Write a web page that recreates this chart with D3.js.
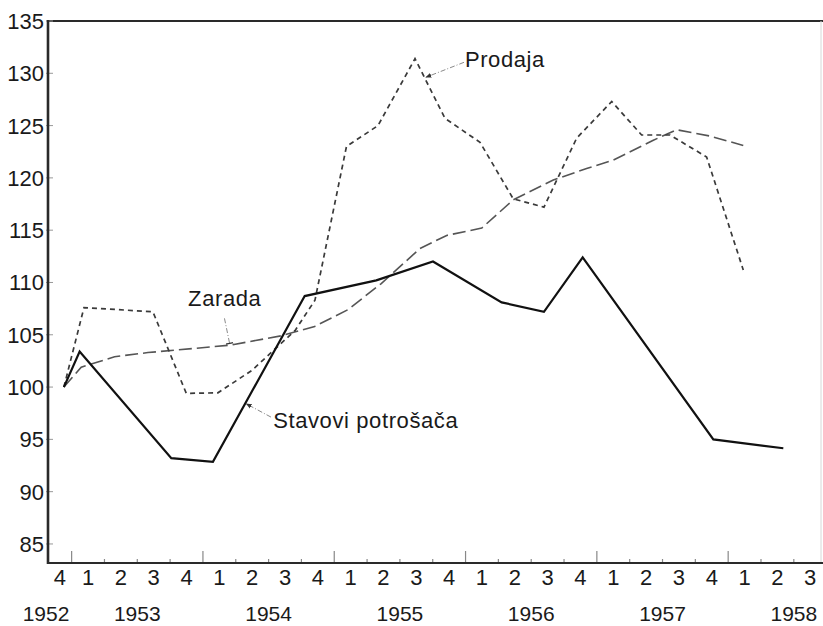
<!DOCTYPE html>
<html lang="hr">
<head>
    <meta charset="utf-8">
    <title>Prodaja, zarada i stavovi potrošača</title>
    <script src="https://d3js.org/d3.v7.min.js"></script>
    <style type="text/css">
        body {
            margin: 0;
            background: #fff;
        }
        svg {
            display: block;
            font-family: 'Liberation Sans', Helvetica, Arial, sans-serif;
        }
        .lbl {
            font-size: 22px;
            fill: #1a1a1a;
        }
        .yr {
            font-size: 21px;
        }
        .note {
            font-size: 22px;
            fill: #1a1a1a;
            letter-spacing: 0.6px;
        }
    </style>
</head>
<body>
<svg></svg>
<script>
    // Werte (x = Dezimaljahr, y = Index)
    var stavoviYears = [1952.941, 1953.061, 1953.759, 1954.076, 1954.775, 1955.32, 1955.752, 1956.275, 1956.597, 1956.892, 1957.887, 1958.420];
    var stavoviValues = [100, 103.4, 93.2, 92.85, 108.7, 110.2, 112.0, 108.1, 107.2, 112.4, 95.0, 94.15];

    var zaradaYears = [1952.941, 1953.073, 1953.327, 1953.581, 1954.203, 1954.596, 1954.851, 1955.104, 1955.358, 1955.653, 1955.856, 1956.123, 1956.363, 1956.668, 1956.922, 1957.125, 1957.430, 1957.608, 1957.861, 1958.115];
    var zaradaValues = [100, 101.9, 102.9, 103.3, 104.0, 104.9, 105.8, 107.4, 109.9, 113.25, 114.5, 115.2, 117.9, 119.8, 120.9, 121.7, 123.6, 124.6, 124.0, 123.1];

    var prodajaYears = [1952.941, 1953.094, 1953.619, 1953.873, 1954.114, 1954.373, 1954.701, 1954.853, 1955.093, 1955.333, 1955.615, 1955.843, 1956.110, 1956.363, 1956.597, 1956.846, 1957.113, 1957.341, 1957.557, 1957.836, 1958.115];
    var prodajaValues = [100, 107.6, 107.2, 99.4, 99.45, 101.6, 105.4, 108.3, 123.0, 125.0, 131.4, 125.7, 123.4, 118.0, 117.2, 123.8, 127.3, 124.1, 124.1, 122.0, 111.2];

    // Achsenbeschriftungen
    var yTicks = [85, 90, 95, 100, 105, 110, 115, 120, 125, 130, 135];
    var quarterLabels = ["4", "1", "2", "3", "4", "1", "2", "3", "4", "1", "2", "3", "4", "1", "2", "3", "4", "1", "2", "3", "4", "1", "2", "3"];
    var yearLabels = ["1952", "1953", "1954", "1955", "1956", "1957", "1958"];

    var W = 823, H = 626;
    var rand = { links: 48, rechts: 821, oben: 21, unten: 563 };

    var svg = d3.select("svg")
        .attr("width", W)
        .attr("height", H);

    var x = d3.scaleLinear().domain([1952.82, 1958.707]).range([rand.links, rand.rechts]);
    var y = d3.scaleLinear().domain([83.18, 135]).range([rand.unten, rand.oben]);

    function zip(xs, ys) {
        return xs.map(function (d, i) { return { t: d, v: ys[i] }; });
    }

    var line = d3.line()
        .x(function (d) { return x(d.t); })
        .y(function (d) { return y(d.v); });

    // Rahmen oben / rechts
    svg.append("line")
        .attr("x1", rand.links).attr("x2", W).attr("y1", rand.oben).attr("y2", rand.oben)
        .attr("stroke", "#2a2a2a").attr("stroke-width", 2.2);
    svg.append("line")
        .attr("x1", rand.rechts).attr("x2", rand.rechts).attr("y1", rand.oben).attr("y2", rand.unten)
        .attr("stroke", "#d8d8d8").attr("stroke-width", 1);

    // Y-Achse
    var yAxis = svg.append("g").attr("class", "y-axis");
    yAxis.selectAll("line.tick")
        .data(yTicks)
        .enter().append("line")
        .attr("x1", rand.links - 2).attr("x2", rand.links + 5)
        .attr("y1", function (d) { return y(d); })
        .attr("y2", function (d) { return y(d); })
        .attr("stroke", "#999").attr("stroke-width", 1);
    yAxis.selectAll("text")
        .data(yTicks)
        .enter().append("text")
        .attr("class", "lbl")
        .attr("x", rand.links - 4)
        .attr("y", function (d) { return y(d); })
        .attr("dy", "0.36em")
        .attr("text-anchor", "end")
        .text(function (d) { return d; });

    // X-Achse: Quartalsgrenzen
    var x0 = x.domain()[0];
    var qTicks = d3.range(0, 23).map(function (i) { return 1953 + i * 0.25; });
    var xAxis = svg.append("g").attr("class", "x-axis");
    xAxis.selectAll("line")
        .data(qTicks)
        .enter().append("line")
        .attr("x1", function (d) { return x(d); })
        .attr("x2", function (d) { return x(d); })
        .attr("y1", rand.unten)
        .attr("y2", function (d) { return d % 1 === 0 ? rand.unten - 12 : rand.unten - 4; })
        .attr("stroke", "#888").attr("stroke-width", 1.2);

    xAxis.selectAll("text.q")
        .data(quarterLabels)
        .enter().append("text")
        .attr("class", "lbl q")
        .attr("x", function (d, i) {
            var s = 1952.75 + i * 0.25;
            var c = s < x0 ? (x0 + s + 0.25) / 2 : s + 0.125;
            return x(c);
        })
        .attr("y", 585)
        .attr("text-anchor", "middle")
        .text(function (d) { return d; });

    xAxis.selectAll("text.yr")
        .data(yearLabels)
        .enter().append("text")
        .attr("class", "lbl yr")
        .attr("x", function (d, i) { return i === 0 ? x(x0) - 2 : x(+d + 0.5); })
        .attr("y", 621)
        .attr("text-anchor", "middle")
        .text(function (d) { return d; });

    // Linke Achse und Grundlinie
    svg.append("line")
        .attr("x1", rand.links).attr("x2", rand.links).attr("y1", rand.oben - 1).attr("y2", rand.unten + 1)
        .attr("stroke", "#2a2a2a").attr("stroke-width", 2.6);
    svg.append("line")
        .attr("x1", rand.links).attr("x2", W).attr("y1", rand.unten).attr("y2", rand.unten)
        .attr("stroke", "#2a2a2a").attr("stroke-width", 2.2);

    // Linien
    svg.append("path")
        .datum(zip(zaradaYears, zaradaValues))
        .attr("d", line)
        .attr("fill", "none")
        .attr("stroke", "#555")
        .attr("stroke-width", 1.6)
        .attr("stroke-dasharray", "13,5");

    svg.append("path")
        .datum(zip(prodajaYears, prodajaValues))
        .attr("d", line)
        .attr("fill", "none")
        .attr("stroke", "#3a3a3a")
        .attr("stroke-width", 1.7)
        .attr("stroke-dasharray", "5,4");

    svg.append("path")
        .datum(zip(stavoviYears, stavoviValues))
        .attr("d", line)
        .attr("fill", "none")
        .attr("stroke", "#111")
        .attr("stroke-width", 2.2)
        .attr("stroke-linejoin", "miter");

    // Beschriftungen mit Hinweislinien
    var defs = svg.append("defs");
    defs.append("marker")
        .attr("id", "pfeil")
        .attr("viewBox", "0 0 10 10")
        .attr("refX", 9).attr("refY", 5)
        .attr("markerWidth", 6).attr("markerHeight", 6)
        .attr("orient", "auto")
        .append("path")
        .attr("d", "M0,1 L10,5 L0,9 Z")
        .attr("fill", "#333");
    defs.append("marker")
        .attr("id", "strich")
        .attr("viewBox", "0 0 10 10")
        .attr("refX", 5).attr("refY", 5)
        .attr("markerWidth", 8).attr("markerHeight", 8)
        .attr("orient", "auto")
        .append("path")
        .attr("d", "M5,0 L5,10")
        .attr("stroke", "#333").attr("stroke-width", 1.6);

    var notes = [
        { text: "Zarada", t: 1953.887, v: 107.74, from: [1954.164, 106.57], to: [1954.203, 104.18], mark: "strich" },
        { text: "Stavovi potrošača", t: 1954.535, v: 96.05, from: [1954.518, 97.13], to: [1954.33, 98.4], mark: "pfeil" },
        { text: "Prodaja", t: 1955.995, v: 130.6, from: [1955.988, 131.05], to: [1955.698, 129.62], mark: "pfeil" }
    ];

    svg.selectAll("line.leader")
        .data(notes)
        .enter().append("line")
        .attr("class", "leader")
        .attr("x1", function (d) { return x(d.from[0]); })
        .attr("y1", function (d) { return y(d.from[1]); })
        .attr("x2", function (d) { return x(d.to[0]); })
        .attr("y2", function (d) { return y(d.to[1]); })
        .attr("stroke", "#8a8a8a")
        .attr("stroke-width", 1)
        .attr("stroke-dasharray", "5,2,1,2")
        .attr("marker-end", function (d) { return "url(#" + d.mark + ")"; });

    svg.selectAll("text.note")
        .data(notes)
        .enter().append("text")
        .attr("class", "note")
        .attr("x", function (d) { return x(d.t); })
        .attr("y", function (d) { return y(d.v); })
        .text(function (d) { return d.text; });
</script>
</body>
</html>
